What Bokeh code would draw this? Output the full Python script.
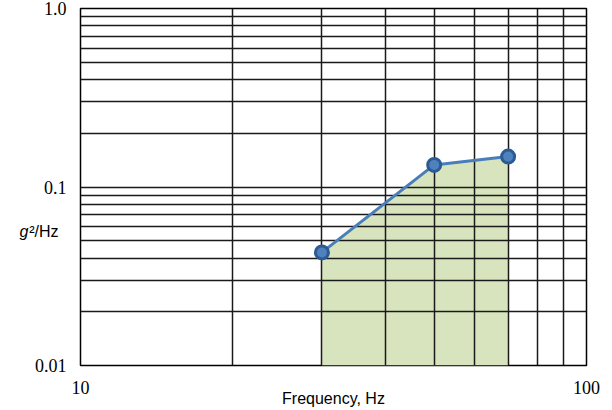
from bokeh.plotting import figure
from bokeh.models import FixedTicker, LogAxis
from bokeh.embed import file_html
from bokeh.resources import INLINE

# PSD breakpoints: frequency (Hz) and acceleration spectral density (g^2/Hz)
freq_hz = [30, 50, 70]
psd_g2hz = [0.043, 0.133, 0.148]

x_ticks = [10, 100]
x_tick_labels = {10: "10", 100: "100"}
y_ticks = [0.01, 0.1, 1.0]
y_tick_labels = {0.01: "0.01", 0.1: "0.1", 1.0: "1.0"}

x_grid = [10, 20, 30, 40, 50, 60, 70, 80, 90, 100]
y_grid = [0.01, 0.02, 0.03, 0.04, 0.05, 0.06, 0.07, 0.08, 0.09,
          0.1, 0.2, 0.3, 0.4, 0.5, 0.6, 0.7, 0.8, 0.9, 1.0]

# height on the y axis where the unit title sits
y_title_at = 0.0564

y_floor = y_ticks[0]

p = figure(width=612, height=410,
           x_axis_type="log", y_axis_type="log",
           x_range=(10, 100), y_range=(0.01, 1.0),
           output_backend="svg", toolbar_location=None,
           min_border_left=80, min_border_right=26,
           min_border_top=8, min_border_bottom=45)

p.background_fill_color = "white"
p.border_fill_color = "white"
p.outline_line_color = "black"
p.outline_line_width = 1.5

# shaded area under the spectrum
area_x = [freq_hz[0]] + freq_hz + [freq_hz[-1]]
area_y = [y_floor] + psd_g2hz + [y_floor]
p.patch(area_x, area_y, fill_color="#d7e4bd", line_color=None, level="image")

# grid
p.xgrid.ticker = FixedTicker(ticks=x_grid)
p.ygrid.ticker = FixedTicker(ticks=y_grid)
for g in (p.xgrid, p.ygrid):
    g.grid_line_color = "#1a1a1a"
    g.grid_line_width = 1.5
    g.grid_line_alpha = 1.0
    g.minor_grid_line_color = None

# spectrum line and breakpoints
p.line(freq_hz, psd_g2hz, line_color="#4a7ebb", line_width=3)
p.scatter(freq_hz, psd_g2hz, size=13, fill_color="#4f81bd",
          line_color="#2c5a94", line_width=3)

# axes
p.xaxis.ticker = FixedTicker(ticks=x_ticks)
p.xaxis.major_label_overrides = x_tick_labels
p.yaxis.ticker = FixedTicker(ticks=y_ticks)
p.yaxis.major_label_overrides = y_tick_labels
for ax in (p.xaxis, p.yaxis):
    ax.axis_line_color = None
    ax.major_tick_line_color = None
    ax.minor_tick_line_color = None
    ax.major_label_text_font = "Liberation Serif"
    ax.major_label_text_font_size = "18px"
    ax.major_label_text_color = "black"
p.xaxis.major_label_standoff = 9
p.yaxis.major_label_standoff = 8

p.xaxis.axis_label = "Frequency, Hz"
p.xaxis.axis_label_text_font = "Liberation Sans"
p.xaxis.axis_label_text_font_style = "normal"
p.xaxis.axis_label_text_font_size = "16px"
p.xaxis.axis_label_text_color = "black"
p.xaxis.axis_label_standoff = -7


def unit_part(text, style, standoff):
    # one labelled tick on an extra left axis, used to set the unit title
    return LogAxis(ticker=FixedTicker(ticks=[y_title_at]),
                   major_label_overrides={y_title_at: text},
                   axis_line_color=None, major_tick_line_color=None,
                   minor_tick_line_color=None,
                   major_label_text_font="Liberation Sans",
                   major_label_text_font_style=style,
                   major_label_text_font_size="16px",
                   major_label_text_color="black",
                   major_label_standoff=standoff)


# "²/Hz" sits next to the frame side, the italic "g" further out
p.add_layout(unit_part("²/Hz", "normal", -33), "left")
p.add_layout(unit_part("g", "italic", -8), "left")

open("out.html", "w").write(file_html(p, INLINE))
